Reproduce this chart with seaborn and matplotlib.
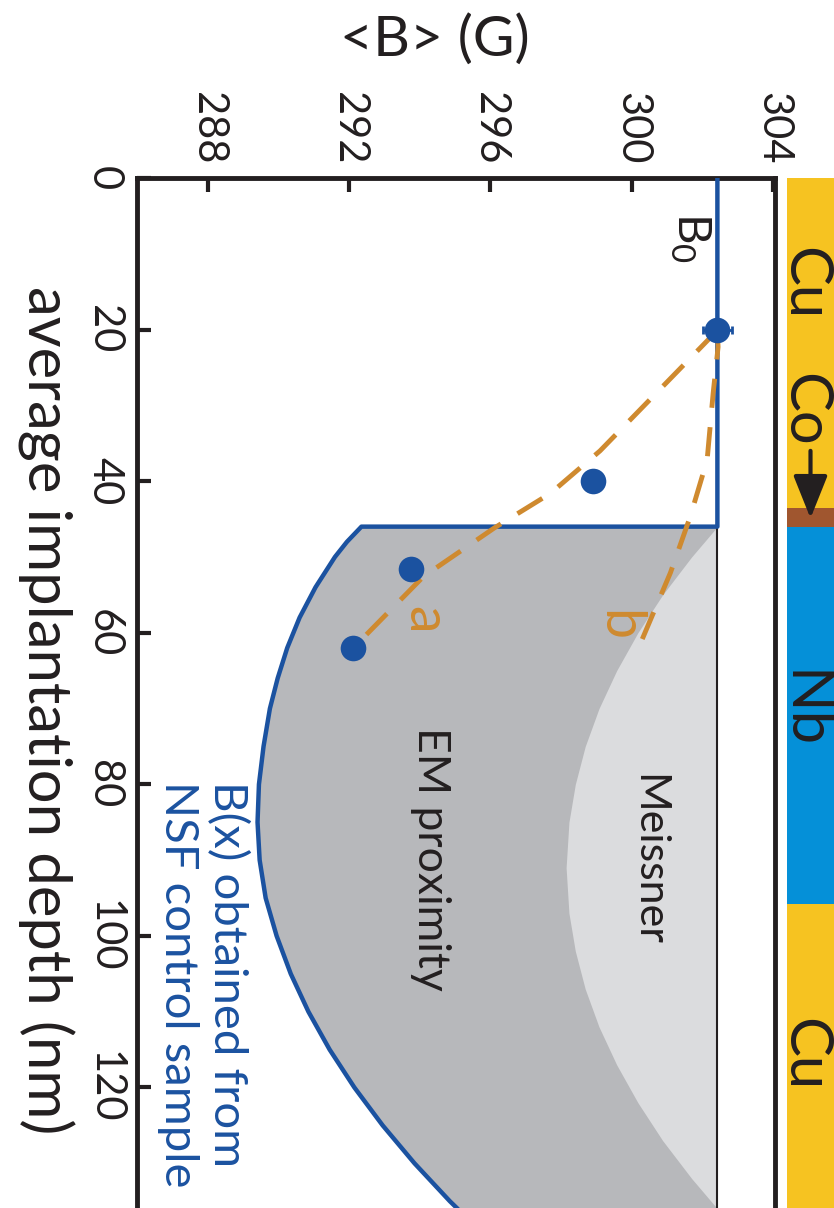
import matplotlib.pyplot as plt
import numpy as np
import pandas as pd
import seaborn as sns

# measured points: average implantation depth (nm) vs <B> (G)
depth_pts = [20.1, 40.0, 51.6, 62.0]
b_pts = [302.42, 298.9, 293.75, 292.12]
b_err = [0.4, 0.0, 0.0, 0.0]

b0 = 302.42
d_interface = 46.0

# B(x) from the NSF control sample (EM proximity boundary)
em_depth = [46, 48, 50, 54, 58, 62, 66, 70, 75, 80, 85, 90, 95, 100, 105,
            110, 115, 120, 125, 130, 135, 140]
em_b = [292.35, 291.94, 291.6, 291.05, 290.6, 290.25, 289.98, 289.76, 289.58,
        289.45, 289.41, 289.47, 289.64, 289.95, 290.35, 290.85, 291.45, 292.15,
        292.95, 293.85, 294.85, 295.95]

# Meissner screening boundary
mz_depth = [46, 50, 55, 60, 65, 70, 75, 80, 85, 91, 97, 102, 107, 112, 117,
            122, 127, 132, 136]
mz_b = [302.42, 301.69, 300.87, 300.17, 299.57, 299.07, 298.68, 298.4, 298.22,
        298.14, 298.22, 298.4, 298.68, 299.07, 299.57, 300.17, 300.87, 301.69,
        302.42]

# dashed model curves
a_depth = [20.1, 36.0, 41.6, 46.2, 52.6, 62.0]
a_b = [302.42, 299.1, 297.7, 296.1, 294.1, 292.12]
bb_depth = [20.1, 22.3, 28.4, 37.2, 44.7, 52.1, 61.0]
bb_b = [302.42, 302.44, 302.3, 302.13, 301.65, 301.09, 300.28]

# sample layers
layer_names = ['Cu', 'Co', 'Nb', 'Cu']
layer_top = [0.0, 43.5, 46.0, 95.8]
layer_bottom = [43.5, 46.0, 95.8, 140.0]
layer_colors = ['#f6c321', '#a0562f', '#0590d8', '#f6c321']
layer_label_depth = [14.0, 30.6, 70.2, 115.7]

b_ticks = [288, 292, 296, 300, 304]
depth_ticks = [0, 20, 40, 60, 80, 100, 120]

BLUE = '#1b52a0'
ORANGE = '#cf8a2f'
INK = '#231f20'


def main():
    sns.set_theme(style='ticks')
    plt.rcParams['font.family'] = ['Lato', 'DejaVu Sans']
    plt.rcParams['mathtext.fontset'] = 'custom'
    plt.rcParams['mathtext.rm'] = 'Lato'

    fig = plt.figure(figsize=(8.34, 12.08), dpi=100)
    H = 1208.0
    W = 834.0
    ax = fig.add_axes([137 / W, 0, (775 - 137) / W, (H - 178) / H])

    ax.fill_betweenx(em_depth, em_b, b0, color='#b7b8bb', lw=0, zorder=1)
    ax.fill_betweenx(mz_depth, mz_b, b0, color='#dbdcde', lw=0, zorder=1.5)
    ax.plot([b0, b0], [d_interface, 140], color=INK, lw=1.5, zorder=2)

    outline = pd.DataFrame({'B': [b0, b0] + em_b, 'depth': [0.0, d_interface] + em_depth})
    sns.lineplot(data=outline, x='B', y='depth', sort=False, estimator=None,
                 color=BLUE, lw=3.2, ax=ax, zorder=3)

    for dd, bb in [(a_depth, a_b), (bb_depth, bb_b)]:
        sns.lineplot(x=bb, y=dd, sort=False, estimator=None, color=ORANGE,
                     lw=3.5, ax=ax, zorder=4)
        ax.lines[-1].set_dashes([6, 4])

    ax.errorbar(b_pts[:1], depth_pts[:1], xerr=b_err[:1], fmt='none',
                ecolor=BLUE, elinewidth=2, capsize=3, capthick=2, zorder=5)
    sns.scatterplot(x=b_pts, y=depth_pts, color=BLUE, s=340, linewidth=0,
                    ax=ax, zorder=6)

    ax.set_xlim(286, 304.05)
    ax.set_ylim(135.9, 0)
    ax.xaxis.tick_top()
    ax.xaxis.set_label_position('top')
    ax.set_xticks(b_ticks)
    ax.set_yticks(depth_ticks)
    ax.tick_params(axis='x', direction='in', length=10, width=3, pad=10,
                   labelsize=30, labelrotation=-90, colors=INK)
    ax.tick_params(axis='y', direction='in', length=10, width=3, pad=10,
                   labelsize=30, labelrotation=-90, colors=INK)
    for lab in ax.get_yticklabels():
        lab.set_va('center')
    ax.set_xlabel('<B> (G)', fontsize=41, color=INK)
    ax.xaxis.set_label_coords((435 - 137) / 638, (1208 - 40) / 1030)
    ax.xaxis.label.set_va('center')
    ax.set_ylabel('average implantation depth (nm)', fontsize=43, rotation=-90,
                  color=INK, ha='center', va='center')
    ax.yaxis.set_label_coords((46 - 137) / 638, (1208 - 710) / 1030)
    ax.spines['bottom'].set_visible(False)
    for s in ['top', 'left', 'right']:
        ax.spines[s].set_linewidth(3.5)
        ax.spines[s].set_color(INK)

    ax.text(301.65, 7.8, 'B$_0$', fontsize=34, rotation=-90, ha='center', va='center', color=INK)
    ax.text(294.1, 58.3, 'a', fontsize=40, rotation=-90, ha='center', va='center', color=ORANGE)
    ax.text(299.6, 59.0, 'b', fontsize=40, rotation=-90, ha='center', va='center', color=ORANGE)
    ax.text(300.47, 90.0, 'Meissner', fontsize=31, rotation=-90, ha='center', va='center', color=INK)
    ax.text(294.3, 89.8, 'EM proximity', fontsize=32, rotation=-90, ha='center', va='center', color=INK)
    ax.text(287.86, 79.6, 'B(x) obtained from\nNSF control sample', fontsize=34, rotation=-90,
            rotation_mode='anchor', ha='left', va='center', multialignment='left',
            color=BLUE, linespacing=1.2)

    # layer strip
    ax2 = fig.add_axes([787 / W, 0, 47 / W, (H - 178) / H])
    ax2.set_xlim(0, 1)
    ax2.set_ylim(135.9, 0)
    ax2.axis('off')
    for name, top, bot, col, yd in zip(layer_names, layer_top, layer_bottom,
                                        layer_colors, layer_label_depth):
        ax2.axhspan(top, bot, color=col, lw=0)
        ax2.text(0.36, yd, name, fontsize=43, rotation=-90, ha='center', va='center', color=INK)
    ax2.annotate('', xy=(0.5, 44.9), xytext=(0.5, 36.0),
                 arrowprops=dict(arrowstyle='-|>,head_length=0.55,head_width=0.22',
                                 mutation_scale=48, lw=3, color=INK, shrinkA=0, shrinkB=0))

    fig.savefig('out.png', dpi=100)


if __name__ == '__main__':
    main()
